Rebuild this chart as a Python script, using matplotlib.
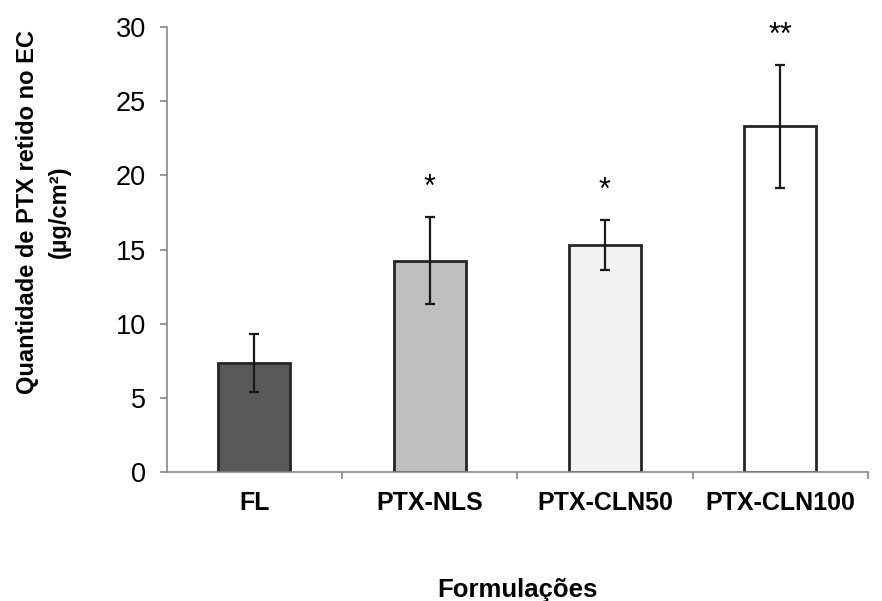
import matplotlib.pyplot as plt

plt.rcParams['font.family'] = ['Liberation Sans', 'DejaVu Sans']

categories = ["FL", "PTX-NLS", "PTX-CLN50", "PTX-CLN100"]
values = [7.37, 14.25, 15.3, 23.3]
errors = [1.95, 2.95, 1.7, 4.15]
signif = ["", "*", "*", "**"]
colors = ["#595959", "#bfbfbf", "#f2f2f2", "#ffffff"]

fig = plt.figure(figsize=(8.82, 6.01), dpi=100)
ax = fig.add_axes([0.189, 0.2146, 0.795, 0.7404])

x = range(len(categories))
ax.bar(x, values, width=0.41, color=colors, edgecolor="#262626", linewidth=2,
       yerr=errors, capsize=3.8, error_kw=dict(ecolor="#1a1a1a", elinewidth=1.6, capthick=1.6),
       zorder=2)

for i, s in enumerate(signif):
    if s:
        top = values[i] + errors[i]
        ax.text(i, top + 0.95, s, ha="center", va="bottom", fontsize=22)

ax.set_xlim(-0.5, len(categories) - 0.5)
ax.set_ylim(0, 30)
ax.set_yticks([0, 5, 10, 15, 20, 25, 30])
ax.set_xticks(list(x))
ax.set_xticklabels(categories, fontsize=18, fontweight="bold")
ax.set_xticks([i + 0.5 for i in range(len(categories))], minor=True)
ax.tick_params(axis="x", which="major", length=0, pad=14)
ax.tick_params(axis="x", which="minor", length=5, color="#868686", width=1.2)
ax.tick_params(axis="y", labelsize=19.5, length=5, color="#868686", width=1.2, pad=10)

for sp in ["top", "right"]:
    ax.spines[sp].set_visible(False)
for sp in ["left", "bottom"]:
    ax.spines[sp].set_color("#868686")
    ax.spines[sp].set_linewidth(1.2)

ax.set_xlabel("Formulações", fontsize=18.5, fontweight="bold", labelpad=45)
ax.set_ylabel("Quantidade de PTX retido no EC\n(µg/cm²)", fontsize=17,
              fontweight="bold", linespacing=1.5)
ax.yaxis.set_label_coords(-0.136, 0.584)

fig.savefig("out.png", dpi=100)
